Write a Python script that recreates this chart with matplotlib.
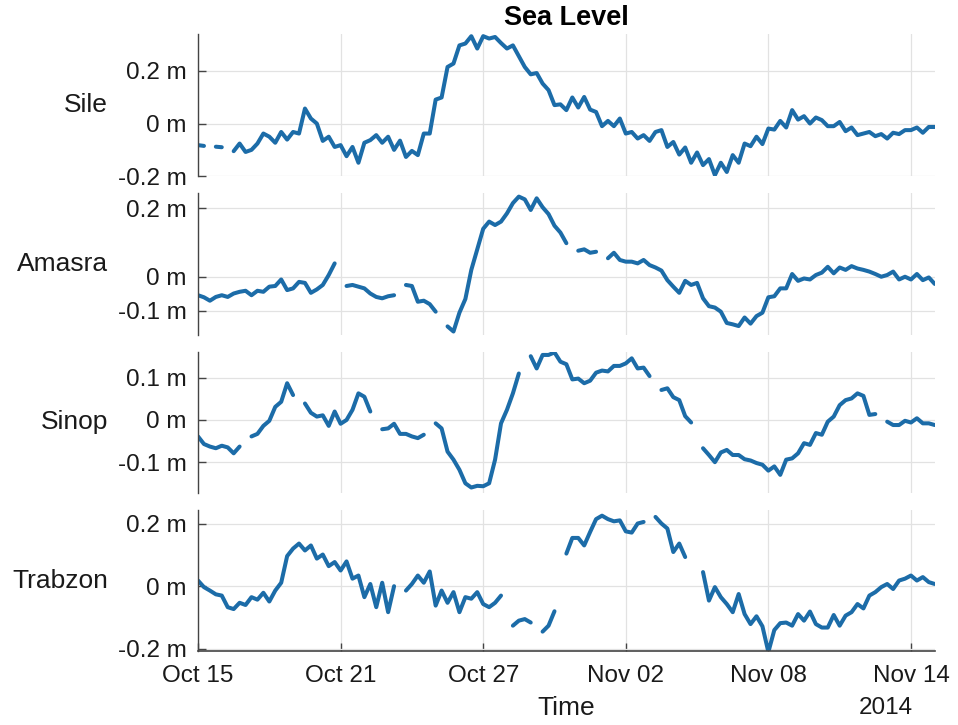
import numpy as np
import pandas as pd
import matplotlib
matplotlib.use('Agg')
import matplotlib.pyplot as plt
import matplotlib.dates as mdates

plt.rcParams['font.family'] = ['Liberation Sans', 'DejaVu Sans']

nan = np.nan

# 6-hourly samples, starting 2014-10-15 00:00
time = pd.date_range('2014-10-15', periods=125, freq='6h')

sile = [
    -0.082, -0.085, nan, -0.088, -0.090, nan, -0.105, -0.076, -0.108, -0.100,
    -0.076, -0.038, -0.050, -0.073, -0.032, -0.061, -0.032, -0.038, 0.057, 0.019,
    0.000, -0.066, -0.050, -0.089, -0.082, -0.124, -0.089, -0.149, -0.073, -0.063,
    -0.044, -0.073, -0.050, -0.100, -0.065, -0.127, -0.104, -0.120, -0.038, -0.038,
    0.091, 0.099, 0.215, 0.228, 0.297, 0.304, 0.332, 0.285, 0.332, 0.323,
    0.329, 0.306, 0.285, 0.297, 0.256, 0.215, 0.187, 0.192, 0.152, 0.127,
    0.070, 0.073, 0.051, 0.099, 0.061, 0.101, 0.053, 0.044, -0.010, 0.010,
    -0.010, 0.019, -0.038, -0.032, -0.057, -0.044, -0.066, -0.032, -0.025, -0.089,
    -0.070, -0.118, -0.091, -0.149, -0.110, -0.158, -0.135, -0.196, -0.149, -0.184,
    -0.120, -0.149, -0.076, -0.086, -0.050, -0.078, -0.019, -0.023, 0.010, -0.015,
    0.051, 0.015, 0.028, 0.000, 0.023, 0.013, -0.010, -0.010, 0.006, -0.029,
    -0.015, -0.044, -0.038, -0.032, -0.048, -0.040, -0.057, -0.035, -0.040, -0.025,
    -0.025, -0.015, -0.035, -0.013, -0.013,
]

amasra = [
    -0.054, -0.060, -0.070, -0.059, -0.054, -0.059, -0.049, -0.044, -0.041, -0.054,
    -0.041, -0.044, -0.029, -0.027, -0.008, -0.039, -0.034, -0.015, -0.018, -0.047,
    -0.037, -0.024, 0.005, 0.039, nan, -0.027, -0.024, -0.029, -0.034, -0.049,
    -0.059, -0.063, -0.057, -0.054, nan, -0.024, -0.027, -0.073, -0.070, -0.080,
    -0.102, nan, -0.145, -0.160, -0.105, -0.065, 0.020, 0.080, 0.140, 0.161,
    0.151, 0.161, 0.185, 0.215, 0.234, 0.226, 0.195, 0.229, 0.203, 0.183,
    0.149, 0.129, 0.098, nan, 0.076, 0.080, 0.070, 0.073, nan, 0.054,
    0.070, 0.049, 0.044, 0.044, 0.039, 0.049, 0.034, 0.027, 0.018, -0.010,
    -0.029, -0.047, -0.012, -0.024, -0.018, -0.063, -0.086, -0.090, -0.102, -0.135,
    -0.139, -0.144, -0.119, -0.137, -0.115, -0.105, -0.060, -0.057, -0.034, -0.034,
    0.008, -0.012, -0.005, -0.008, 0.005, 0.012, 0.029, 0.010, 0.027, 0.020,
    0.031, 0.024, 0.020, 0.015, 0.008, 0.000, 0.005, 0.015, -0.008, 0.000,
    -0.008, 0.008, -0.010, -0.002, -0.021,
]

sinop = [
    -0.039, -0.057, -0.063, -0.067, -0.061, -0.065, -0.079, -0.063, nan, -0.039,
    -0.033, -0.014, -0.002, 0.031, 0.043, 0.087, 0.059, nan, 0.039, 0.017,
    0.008, 0.011, -0.014, 0.020, -0.009, 0.000, 0.024, 0.063, 0.055, 0.020,
    nan, -0.022, -0.020, -0.009, -0.033, -0.033, -0.039, -0.043, -0.035, nan,
    -0.008, -0.020, -0.075, -0.094, -0.118, -0.150, -0.160, -0.156, -0.157, -0.150,
    -0.094, -0.008, 0.024, 0.063, 0.110, nan, 0.151, 0.122, 0.154, 0.154,
    0.160, 0.138, 0.132, 0.096, 0.098, 0.087, 0.093, 0.112, 0.117, 0.115,
    0.128, 0.128, 0.134, 0.146, 0.122, 0.124, 0.104, nan, 0.071, 0.075,
    0.054, 0.047, 0.009, -0.006, nan, -0.067, -0.083, -0.100, -0.077, -0.071,
    -0.083, -0.083, -0.093, -0.096, -0.102, -0.106, -0.120, -0.110, -0.130, -0.094,
    -0.091, -0.079, -0.055, -0.059, -0.031, -0.035, -0.004, 0.008, 0.035, 0.047,
    0.051, 0.063, 0.057, 0.012, 0.014, nan, -0.004, -0.012, -0.012, -0.002,
    -0.006, 0.004, -0.008, -0.008, -0.012,
]

trabzon = [
    0.018, -0.003, -0.014, -0.026, -0.030, -0.067, -0.073, -0.053, -0.060, -0.035,
    -0.043, -0.021, -0.049, -0.014, 0.011, 0.096, 0.120, 0.136, 0.114, 0.130,
    0.088, 0.101, 0.064, 0.077, 0.050, 0.079, 0.024, 0.034, -0.035, 0.007,
    -0.067, 0.011, -0.083, 0.000, nan, -0.014, 0.007, 0.034, 0.011, 0.047,
    -0.062, -0.014, -0.053, -0.019, -0.083, -0.035, -0.040, -0.019, -0.057, -0.067,
    -0.053, -0.030, nan, -0.126, -0.110, -0.105, -0.116, nan, -0.145, -0.126,
    -0.080, nan, 0.104, 0.154, 0.154, 0.130, 0.173, 0.214, 0.225, 0.214,
    0.207, 0.210, 0.175, 0.171, 0.200, 0.205, nan, 0.221, 0.200, 0.184,
    0.109, 0.136, 0.093, nan, nan, 0.045, -0.046, -0.003, -0.035, -0.057,
    -0.083, -0.025, -0.089, -0.121, -0.096, -0.128, -0.210, -0.140, -0.118, -0.116,
    -0.126, -0.089, -0.110, -0.081, -0.121, -0.132, -0.132, -0.092, -0.126, -0.094,
    -0.083, -0.057, -0.071, -0.030, -0.019, -0.003, 0.007, -0.009, 0.018, 0.024,
    0.034, 0.018, 0.029, 0.013, 0.007,
]

stations = ['Sile', 'Amasra', 'Sinop', 'Trabzon']
series = [sile, amasra, sinop, trabzon]
ylims = [(-0.2, 0.34), (-0.17, 0.245), (-0.173, 0.161), (-0.207, 0.243)]
yticks = [[-0.2, 0, 0.2], [-0.1, 0, 0.2], [-0.1, 0, 0.1], [-0.2, 0, 0.2]]
ytick_labels = [['-0.2 m', '0 m', '0.2 m'], ['-0.1 m', '0 m', '0.2 m'],
                ['-0.1 m', '0 m', '0.1 m'], ['-0.2 m', '0 m', '0.2 m']]
xtick_dates = pd.to_datetime(['2014-10-15', '2014-10-21', '2014-10-27',
                              '2014-11-02', '2014-11-08', '2014-11-14'])

line_color = '#1c6ca8'
fig = plt.figure(figsize=(9.58, 7.25), dpi=100)

# axes boxes in figure fractions (left, bottom, width, height)
boxes = [(0.2067, 0.757, 0.769, 0.196),
         (0.2067, 0.538, 0.769, 0.196),
         (0.2067, 0.320, 0.769, 0.1945),
         (0.2067, 0.102, 0.769, 0.1945)]

for i, (name, vals) in enumerate(zip(stations, series)):
    ax = fig.add_axes(boxes[i])
    ax.plot(time, np.array(vals, dtype=float), color=line_color, lw=2.9,
            solid_capstyle='round', solid_joinstyle='round')
    ax.set_xlim(pd.Timestamp('2014-10-15'), pd.Timestamp('2014-11-15'))
    ax.set_ylim(*ylims[i])
    ax.set_yticks(yticks[i])
    ax.set_yticklabels(ytick_labels[i])
    ax.set_xticks(xtick_dates)
    ax.xaxis.set_major_formatter(mdates.DateFormatter('%b %d'))
    ax.grid(True, color='#e2e2e2', lw=0.9)
    ax.set_axisbelow(True)
    for s in ['top', 'right']:
        ax.spines[s].set_visible(False)
    ax.spines['left'].set_color('#444444')
    ax.spines['left'].set_linewidth(1.0)
    ax.tick_params(axis='y', direction='in', length=6, width=1.0,
                   colors='#444444', labelcolor='#1a1a1a', labelsize=17.5, pad=8)
    if i < 3:
        ax.spines['bottom'].set_visible(False)
        ax.tick_params(axis='x', length=0, labelbottom=False)
    else:
        ax.spines['bottom'].set_color('#444444')
        ax.spines['bottom'].set_linewidth(1.2)
        ax.tick_params(axis='x', direction='in', length=6, width=1.0,
                       colors='#444444', labelcolor='#1a1a1a', labelsize=17.5, pad=10)
    ax.text(-0.122, 0.5, name, transform=ax.transAxes, ha='right', va='center',
            fontsize=19, color='#1a1a1a')

fig.text(0.5913, 0.975, 'Sea Level', ha='center', va='center',
         fontsize=19.5, fontweight='bold', color='black')
fig.text(0.5913, 0.0234, 'Time', ha='center', va='center', fontsize=19, color='#1a1a1a')
fig.text(0.953, 0.0234, '2014', ha='right', va='center', fontsize=17.5, color='#1a1a1a')

fig.savefig('out.png', dpi=100)
